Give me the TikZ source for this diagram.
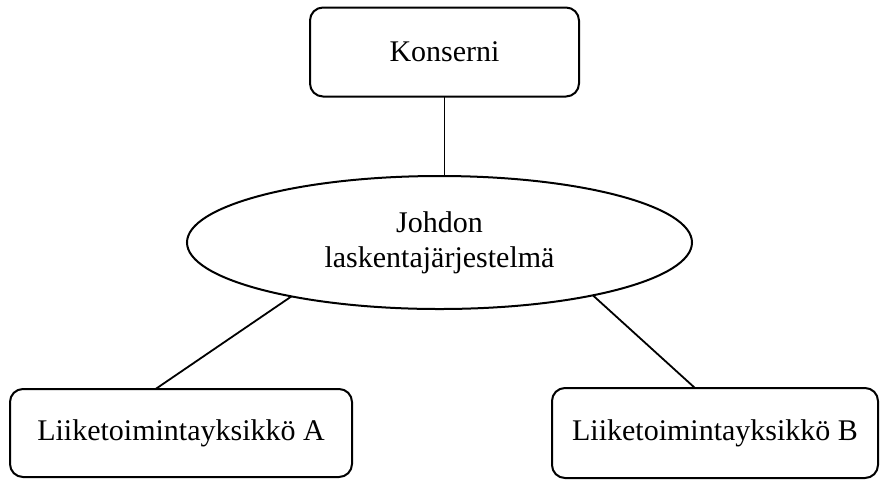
\documentclass[tikz,border=0pt]{standalone}
\usepackage{fontspec}
\setmainfont{Liberation Serif}
\usepackage{tikz}
\usetikzlibrary{shapes.geometric}

\begin{document}
\begin{tikzpicture}[
        x=0.5pt, y=-0.5pt,
        every node/.style={font=\fontsize{15}{17.5}\selectfont, inner sep=0pt, outer sep=0pt},
        box/.style={draw, line width=1pt, rounded corners=6.5pt, minimum height=44.5pt},
        oval/.style={draw, line width=1pt, ellipse, minimum width=252.5pt, minimum height=66.5pt, align=center},
        link/.style={line width=0.9pt}
    ]
    \useasboundingbox (0,0) rectangle (880,479);

    % -- Position des noeuds --
    \node[box, minimum width=134.5pt] (kons) at (444.5,52)  {Konserni};
    \node[oval] (lask) at (439.5,242.5) {Johdon\\laskentajärjestelmä};
    \node[box, minimum width=171pt, minimum height=44pt] (yksA) at (181,433) {Liiketoimintayksikkö A};
    \node[box, minimum width=163pt, minimum height=45pt] (yksB) at (715,433) {Liiketoimintayksikkö B};

    % -- Position des liens --
    % Konserni -> laskenta :
    \draw[link] (kons.south) -- (kons.south |- lask.north);

    % laskenta -> A :
    \draw[link] (lask.200.5) -- (yksA.120.6);

    % laskenta -> B :
    \draw[link] (lask.341.5) -- (yksB.114);

\end{tikzpicture}
\end{document}
